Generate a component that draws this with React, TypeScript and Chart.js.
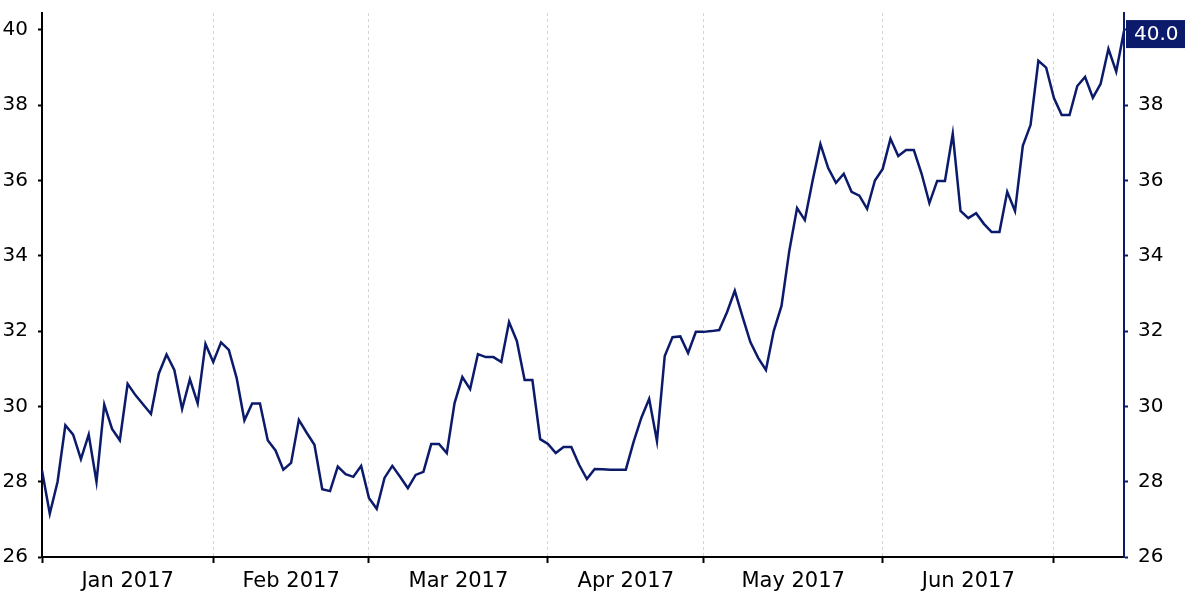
import React, { useEffect, useRef } from 'react';
import { Chart, registerables } from 'chart.js';

Chart.register(...registerables);

// ---- data (business days, Jan – mid Jul 2017) ----
const monthLabels = ['Jan 2017', 'Feb 2017', 'Mar 2017', 'Apr 2017', 'May 2017', 'Jun 2017'];

const jan = [28.3, 27.15, 28.0, 29.5, 29.25, 28.6, 29.25, 28.0, 30.05, 29.4, 29.1, 30.6, 30.3, 30.05, 29.8, 30.87, 31.38, 30.97, 29.93, 30.72, 30.08, 31.66];
const feb = [31.18, 31.7, 31.5, 30.76, 29.63, 30.08, 30.08, 29.1, 28.83, 28.32, 28.5, 29.64, 29.3, 28.98, 27.8, 27.75, 28.4, 28.2, 28.13, 28.42];
const mar = [27.57, 27.28, 28.1, 28.42, 28.13, 27.83, 28.18, 28.26, 29.0, 29.0, 28.76, 30.09, 30.78, 30.46, 31.39, 31.31, 31.31, 31.18, 32.24, 31.74, 30.7, 30.7, 29.13];
const apr = [29.0, 28.76, 28.92, 28.92, 28.45, 28.07, 28.34, 28.33, 28.32, 28.32, 28.32, 29.06, 29.7, 30.2, 29.08, 31.34, 31.84, 31.86, 31.42, 31.98];
const may = [31.98, 32.0, 32.03, 32.5, 33.07, 32.38, 31.71, 31.29, 30.97, 32.0, 32.67, 34.13, 35.27, 34.95, 36.0, 36.97, 36.33, 35.94, 36.18, 35.7, 35.6, 35.25, 36.0];
const jun = [36.31, 37.11, 36.65, 36.81, 36.81, 36.18, 35.4, 35.99, 35.99, 37.24, 35.19, 35.0, 35.13, 34.85, 34.63, 34.63, 35.7, 35.19, 36.92, 37.48, 39.18, 39.0];
const jul = [38.19, 37.74, 37.74, 38.51, 38.75, 38.2, 38.57, 39.5, 38.89, 39.97];

const yTicks = [26, 28, 30, 32, 34, 36, 38, 40];
const yMin = 26;
const yMax = 40.45;

const months = [jan, feb, mar, apr, may, jun, jul];
const values: number[] = months.flat();
const monthStarts: number[] = [];
{
  let acc = 0;
  months.forEach((m) => {
    monthStarts.push(acc);
    acc += m.length;
  });
}
const labelAt = new Map<number, string>();
monthLabels.forEach((lab, k) => {
  labelAt.set((monthStarts[k] + monthStarts[k + 1]) / 2, lab);
});
const boundarySet = new Set<number>(monthStarts);
const xTickValues = [...monthStarts, ...Array.from(labelAt.keys())].sort((a, b) => a - b);

const NAVY = '#0b1a6a';
const FONT = '"DejaVu Sans", Verdana, sans-serif';

const lastValueBox = {
  id: 'lastValueBox',
  afterDraw(chart: any) {
    const { ctx } = chart;
    const ys = chart.scales.y2;
    const last = values[values.length - 1];
    const y = ys.getPixelForValue(last) + 3;
    const x0 = ys.left + 2;
    ctx.save();
    ctx.fillStyle = NAVY;
    ctx.fillRect(x0, y - 14, chart.width - x0, 28);
    ctx.fillStyle = '#ffffff';
    ctx.font = `20px ${FONT}`;
    ctx.textBaseline = 'middle';
    ctx.textAlign = 'left';
    ctx.fillText(last.toFixed(1), x0 + 8, y + 1);
    ctx.restore();
  },
};

const fitY = (w: number) => (scale: any) => {
  scale.width = w;
  scale.paddingTop = 0;
  scale.paddingBottom = 0;
};

export default function App() {
  const ref = useRef<HTMLCanvasElement | null>(null);

  useEffect(() => {
    document.body.style.margin = '0';
    if (!ref.current) return;
    const chart = new Chart(ref.current, {
      type: 'line',
      data: {
        datasets: [
          {
            data: values.map((v, i) => ({ x: i, y: v })),
            borderColor: NAVY,
            borderWidth: 2.5,
            pointRadius: 0,
            tension: 0,
            fill: false,
            yAxisID: 'y',
          },
        ],
      },
      plugins: [lastValueBox],
      options: {
        animation: false,
        responsive: false,
        devicePixelRatio: 1,
        layout: { padding: { top: 13, left: 0, right: 0, bottom: 0 } },
        plugins: { legend: { display: false }, tooltip: { enabled: false } },
        scales: {
          x: {
            type: 'linear',
            min: 0,
            max: values.length - 1,
            afterBuildTicks: (scale: any) => {
              scale.ticks = xTickValues.map((v) => ({ value: v }));
            },
            afterFit: (scale: any) => {
              scale.height = 44;
              scale.paddingLeft = 0;
              scale.paddingRight = 0;
            },
            ticks: {
              autoSkip: false,
              maxRotation: 0,
              minRotation: 0,
              padding: 6,
              color: '#000',
              font: { family: FONT, size: 21 },
              callback: (value: any) => labelAt.get(Number(value)) ?? '',
            },
            grid: {
              drawOnChartArea: true,
              drawTicks: true,
              tickLength: 6,
              lineWidth: 1,
              tickWidth: 2,
              color: (ctx: any) => {
                const v = ctx.tick ? ctx.tick.value : -1;
                return boundarySet.has(v) && v !== 0 ? '#d4d4d4' : 'rgba(0,0,0,0)';
              },
              tickColor: (ctx: any) => {
                const v = ctx.tick ? ctx.tick.value : -1;
                return boundarySet.has(v) ? '#000' : 'rgba(0,0,0,0)';
              },
            },
            border: { display: true, color: '#000', width: 2, dash: [3, 3] },
          },
          y: {
            type: 'linear',
            position: 'left',
            min: yMin,
            max: yMax,
            afterBuildTicks: (scale: any) => {
              scale.ticks = yTicks.map((v) => ({ value: v }));
            },
            afterFit: fitY(42),
            ticks: {
              padding: 10,
              color: '#000',
              font: { family: FONT, size: 20 },
              callback: (value: any) => String(value),
            },
            grid: {
              drawOnChartArea: false,
              drawTicks: true,
              tickLength: 4,
              tickWidth: 2,
              tickColor: '#000',
            },
            border: { display: true, color: '#000', width: 2 },
          },
          y2: {
            type: 'linear',
            position: 'right',
            min: yMin,
            max: yMax,
            afterBuildTicks: (scale: any) => {
              scale.ticks = yTicks.map((v) => ({ value: v }));
            },
            afterFit: fitY(61),
            ticks: {
              padding: 10,
              color: '#000',
              font: { family: FONT, size: 20 },
              callback: (value: any) => String(value),
            },
            grid: {
              drawOnChartArea: false,
              drawTicks: true,
              tickLength: 4,
              tickWidth: 2,
              tickColor: NAVY,
            },
            border: { display: true, color: NAVY, width: 2 },
          },
        },
      },
    } as any);
    return () => chart.destroy();
  }, []);

  return (
    <div style={{ position: 'fixed', left: 0, top: 0, width: 1185, height: 601, background: '#fff' }}>
      <canvas ref={ref} width={1185} height={601} style={{ display: 'block', width: 1185, height: 601 }} />
    </div>
  );
}
